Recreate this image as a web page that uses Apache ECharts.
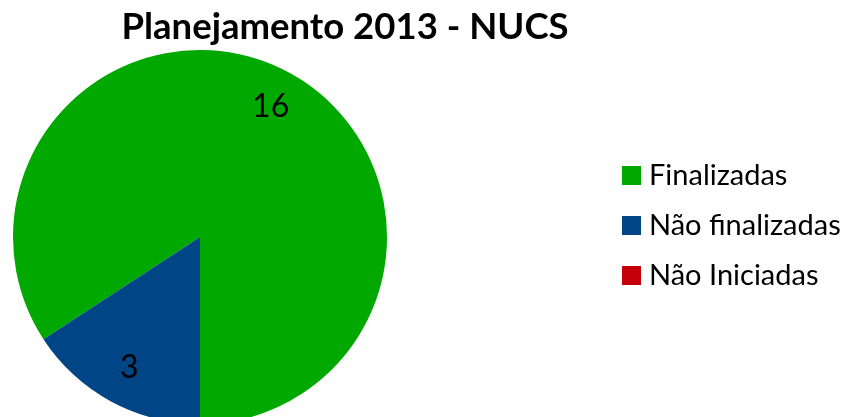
<!DOCTYPE html>
<html>
<head>
<meta charset="utf-8">
<script src="https://cdn.jsdelivr.net/npm/echarts@6/dist/echarts.min.js"></script>
<style>
  html, body { margin: 0; padding: 0; background: #ffffff; }
  #chart { width: 849px; height: 417px; }
</style>
</head>
<body>
<div id="chart"></div>
<script>
// Status of the 2013 planning items
const categories = ['Finalizadas', 'Não finalizadas', 'Não Iniciadas'];
const values = [16, 3, 0];
const colors = ['#00a800', '#004586', '#c5000b'];

const total = values.reduce((a, b) => a + b, 0);
// First slice starts so that the last non-empty slice closes at 6 o'clock
const startAngle = -90 + 360 * values[0] / total;

const pieData = categories.map((name, i) => ({
  name: name,
  value: values[i],
  itemStyle: { color: colors[i] }
}));

const labelData = categories.map((name, i) => ({ name: name, value: values[i] }));

const chart = echarts.init(document.getElementById('chart'), null, { renderer: 'canvas' });
chart.setOption({
  animation: false,
  backgroundColor: '#ffffff',
  title: {
    text: 'Planejamento 2013 - NUCS',
    left: 340,
    textAlign: 'center',
    top: 4,
    padding: [5, 5, 5, 5],
    textStyle: {
      fontFamily: 'Lato',
      fontWeight: 'bold',
      fontSize: 36.5,
      color: '#000000'
    }
  },
  legend: {
    orient: 'vertical',
    left: 622,
    top: 161,
    padding: 0,
    itemWidth: 19,
    itemHeight: 19,
    itemGap: 21,
    icon: 'rect',
    data: categories,
    textStyle: {
      fontFamily: 'Lato',
      fontSize: 29,
      lineHeight: 25,
      color: '#000000',
      padding: [0, 0, 0, 3]
    }
  },
  series: [
    {
      type: 'pie',
      center: [200, 237],
      radius: [0, 187],
      startAngle: startAngle,
      clockwise: true,
      avoidLabelOverlap: false,
      label: { show: false },
      labelLine: { show: false },
      emphasis: { disabled: true },
      data: pieData
    },
    {
      // transparent ring that carries the value labels further out
      type: 'pie',
      center: [200, 237],
      radius: [104, 187],
      startAngle: startAngle,
      clockwise: true,
      silent: true,
      legendHoverLink: false,
      avoidLabelOverlap: false,
      itemStyle: { color: 'rgba(0,0,0,0)' },
      label: {
        show: true,
        position: 'inside',
        fontFamily: 'Lato',
        fontSize: 32,
        color: '#000000',
        formatter: p => (p.value ? String(p.value) : '')
      },
      labelLine: { show: false },
      emphasis: { disabled: true },
      data: labelData
    }
  ]
});
</script>
</body>
</html>
